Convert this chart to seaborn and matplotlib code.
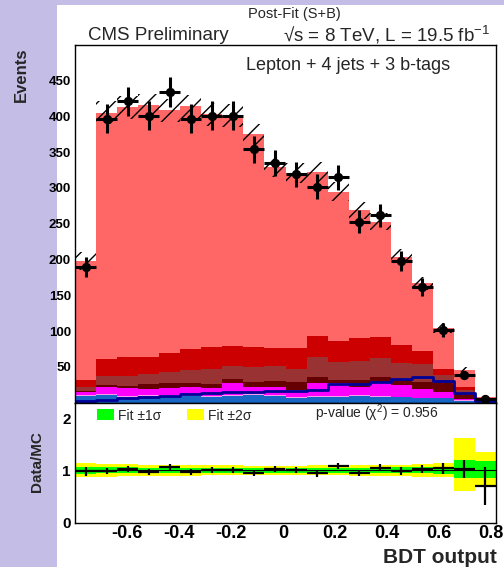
import numpy as np
import pandas as pd
import matplotlib
matplotlib.use("Agg")
import matplotlib.pyplot as plt
from matplotlib.patches import Patch, Rectangle
from matplotlib.ticker import MultipleLocator
import seaborn as sns

# binning of the BDT output (20 bins)
x_lo, x_hi, n_bins = -0.8, 0.82, 20

# observed data
data_events = [190, 397, 421, 401, 434, 397, 401, 401, 354, 335,
               319, 302, 315, 253, 262, 198, 161, 101.5, 38.5, 5]
data_err = [14, 20, 20.5, 20, 21, 20, 20, 20, 19, 18.3,
            17.9, 17.4, 17.7, 15.9, 16.2, 14.1, 12.7, 10.1, 6.2, 2.2]

# post-fit MC, top of each stacked component
mc_total = [198, 405, 413, 416, 409, 414, 403, 401, 375, 330,
            321, 323, 295, 269, 253, 204, 167, 104, 46, 8]
mc_err = [12, 16, 16, 16, 16, 16, 16, 16, 15, 14,
          14, 14, 13, 12, 12, 10, 9, 7, 4, 1]
top_red = [31.5, 60.4, 64.2, 64.2, 69.8, 74.4, 77.3, 79.6, 78.2, 75.9,
           75.9, 93.1, 86.1, 89.9, 91.3, 80.5, 72.6, 46.4, 22, 6]
top_brown = [22, 37.6, 37.6, 39.9, 43.1, 45.5, 46.9, 51.1, 50.2, 51.6,
             46.4, 63.2, 57.2, 58.6, 61.8, 54.8, 53.4, 38.5, 18, 5]
top_maroon = [16.5, 24.5, 23.1, 25.9, 26.8, 26.8, 25.9, 32.4, 29.2, 30.6,
              29.2, 36.2, 31.5, 31.5, 36.2, 31.5, 29.2, 26.8, 12, 4]
top_magenta = [15, 22.2, 19.8, 18.4, 19.8, 21.3, 19.8, 26.8, 22.2, 21.3,
               17.5, 27.8, 26.8, 22.2, 26.8, 24.5, 18.4, 15.2, 5, 2]
top_pink = [10.5, 11.6, 9, 10, 10, 10, 9, 11, 11.6, 10.7,
            7.5, 9, 9, 10, 9, 8, 6.6, 6.6, 3.2, 1.3]
top_blue = [9.5, 10.6, 8, 8.8, 8.8, 8.8, 7.9, 9.7, 10.6, 9.7,
            6.5, 7.9, 7.9, 8.8, 7.9, 7.0, 5.6, 5.6, 2.5, 1]
tth_line = [2.5, 3.5, 6, 8, 9.5, 11.5, 13, 14, 15, 16.5,
            16.1, 17.5, 25.4, 25.4, 29.2, 32.4, 36.2, 30, 13, 2.5]

# ratio panel
ratio = [0.98, 0.99, 1.03, 0.97, 1.06, 0.97, 1.0, 1.0, 0.95, 1.02,
         1.0, 0.94, 1.08, 0.95, 1.05, 0.99, 1.02, 1.04, 1.02, 0.70]
ratio_err = [0.08, 0.06, 0.06, 0.06, 0.06, 0.06, 0.06, 0.06, 0.06, 0.06,
             0.06, 0.06, 0.06, 0.065, 0.065, 0.07, 0.08, 0.11, 0.17, 0.36]
band2_lo = [0.87, 0.88, 0.89, 0.90, 0.90, 0.90, 0.91, 0.91, 0.91, 0.91,
            0.91, 0.91, 0.91, 0.90, 0.90, 0.89, 0.88, 0.87, 0.60, 0.69]
band2_hi = [1.14, 1.13, 1.12, 1.11, 1.10, 1.10, 1.10, 1.10, 1.09, 1.09,
            1.09, 1.10, 1.10, 1.10, 1.11, 1.11, 1.12, 1.14, 1.62, 1.36]
band1_lo = [0.93, 0.94, 0.94, 0.95, 0.95, 0.95, 0.95, 0.95, 0.95, 0.95,
            0.95, 0.95, 0.95, 0.95, 0.95, 0.94, 0.94, 0.93, 0.85, 0.85]
band1_hi = [1.07, 1.06, 1.06, 1.05, 1.05, 1.05, 1.05, 1.05, 1.05, 1.05,
            1.05, 1.05, 1.05, 1.05, 1.05, 1.06, 1.06, 1.07, 1.20, 1.18]

xtick_labels = ["-0.6", "-0.4", "-0.2", "0", "0.2", "0.4", "0.6", "0.8"]

W, H = 504, 567


def px(x, y):
    """pixel position (from top-left) -> figure fraction"""
    return x / W, 1 - y / H


def steps(vals):
    """repeat last value so fill_between(step='post') covers the last bin"""
    return list(vals) + [vals[-1]]


def style_axis(ax):
    ax.tick_params(which="both", direction="in", top=False, right=False, width=1, colors="black")
    for side in ax.spines.values():
        side.set_visible(True)
        side.set_color("black")
        side.set_linewidth(1)


def main():
    sns.set_theme(style="white")
    plt.rcParams["font.family"] = ["Liberation Sans", "DejaVu Sans"]
    plt.rcParams["mathtext.fontset"] = "custom"
    plt.rcParams["mathtext.rm"] = "Liberation Sans"
    plt.rcParams["mathtext.it"] = "Liberation Sans:italic"
    plt.rcParams["hatch.linewidth"] = 1.0
    plt.rcParams["hatch.color"] = "black"

    edges = np.linspace(x_lo, x_hi, n_bins + 1)
    centers = 0.5 * (edges[:-1] + edges[1:])
    half_w = 0.5 * (edges[1] - edges[0])

    fig = plt.figure(figsize=(W / 100, H / 100), dpi=100)
    fig.patch.set_facecolor("#c4bee6")
    fig.add_artist(Rectangle((57 / W, 0), 1 - 57 / W, 1 - 5 / H, transform=fig.transFigure,
                             facecolor="white", edgecolor="none", zorder=-5))

    ax = fig.add_axes([75 / W, 1 - 402.5 / H, 421 / W, 357.5 / H])
    ax_r = fig.add_axes([75 / W, 1 - 522.5 / H, 421 / W, 120 / H])

    # stacked backgrounds, drawn top component first
    layers = [(mc_total, "#ff6666"), (top_red, "#cc0000"), (top_brown, "#993333"),
              (top_maroon, "#660000"), (top_magenta, "#ff00ff"), (top_pink, "#ff99ee"),
              (top_blue, "#1766c6")]
    for tops, col in layers:
        layer_df = pd.DataFrame({"bdt": centers, "events": tops})
        sns.histplot(data=layer_df, x="bdt", weights="events", bins=list(edges),
                     element="step", fill=True, color=col, alpha=1, linewidth=0, ax=ax)

    # signal as a line
    ax.step(edges, steps(tth_line), where="post", color="#000099", linewidth=2)

    # fit uncertainty band
    lo = [m - e for m, e in zip(mc_total, mc_err)]
    hi = [m + e for m, e in zip(mc_total, mc_err)]
    ax.fill_between(edges, steps(lo), steps(hi), step="post", facecolor="none",
                    edgecolor="black", hatch="//", linewidth=0)

    # data
    ax.errorbar(centers, data_events, yerr=data_err, xerr=half_w, fmt="none",
                ecolor="black", elinewidth=2.2, capsize=0, zorder=5)
    sns.scatterplot(x=centers, y=data_events, color="black", s=45, edgecolor="black",
                    linewidth=0, ax=ax, zorder=6)

    ax.set_xlim(x_lo, x_hi)
    ax.set_ylim(0, 500)
    ax.set_yticks(np.arange(50, 451, 50))
    ax.yaxis.set_minor_locator(MultipleLocator(10))
    ax.set_xticks([-0.6, -0.4, -0.2, 0, 0.2, 0.4, 0.6, 0.8])
    ax.xaxis.set_minor_locator(MultipleLocator(0.05))
    ax.set_xticklabels([])
    ax.set_xlabel("")
    ax.set_ylabel("")
    style_axis(ax)
    ax.tick_params(which="major", length=9)
    ax.tick_params(which="minor", length=5)
    ax.tick_params(axis="y", labelsize=9.5, pad=3)
    for lab in ax.get_yticklabels():
        lab.set_fontweight("bold")

    ax.text((246 - 75) / 421, (402.5 - 66) / 357.5, "Lepton + 4 jets + 3 b-tags",
            transform=ax.transAxes, ha="left", va="center", fontsize=13)

    # ratio panel
    ax_r.fill_between(edges, steps(band2_lo), steps(band2_hi), step="post",
                      color="#ffff00", linewidth=0)
    ax_r.fill_between(edges, steps(band1_lo), steps(band1_hi), step="post",
                      color="#00ff00", linewidth=0)
    ax_r.axhline(1, color="black", linewidth=0.8)
    ax_r.errorbar(centers, ratio, yerr=ratio_err, xerr=half_w, fmt="none",
                  ecolor="black", elinewidth=1.6, capsize=0)

    ax_r.set_xlim(x_lo, x_hi)
    ax_r.set_ylim(0, 2.3)
    ax_r.set_yticks([0, 1, 2])
    ax_r.yaxis.set_minor_locator(MultipleLocator(0.25))
    ax_r.set_xticks([-0.6, -0.4, -0.2, 0, 0.2, 0.4, 0.6, 0.8])
    ax_r.set_xticklabels(xtick_labels)
    ax_r.xaxis.set_minor_locator(MultipleLocator(0.05))
    style_axis(ax_r)
    ax_r.tick_params(which="major", length=7)
    ax_r.tick_params(which="minor", length=4)
    ax_r.tick_params(axis="y", labelsize=11, pad=3)
    ax_r.tick_params(axis="x", labelsize=13, pad=1.5)
    for lab in ax_r.get_yticklabels() + ax_r.get_xticklabels():
        lab.set_fontweight("bold")

    handles = [Patch(facecolor="#00ff00", edgecolor="none"),
               Patch(facecolor="#ffff00", edgecolor="none")]
    ax_r.legend(handles, ["Fit \u00b11\u03c3", "Fit \u00b12\u03c3"], ncol=2, loc="upper left",
                bbox_to_anchor=((97 - 75) / 421, 0.95), frameon=False, fontsize=10,
                handlelength=1.2, handleheight=0.9, handletextpad=0.3, columnspacing=1.9,
                borderaxespad=0, borderpad=0)

    # titles and labels
    fig.text(*px(294, 14), "Post-Fit (S+B)", ha="center", va="center", fontsize=10.5)
    fig.text(*px(88, 36), "CMS Preliminary", ha="left", va="center", fontsize=13.5)
    fig.text(*px(490, 35), "\u221as = 8 TeV, L = 19.5 fb$^{-1}$", ha="right",
             va="center", fontsize=13.5)
    fig.text(*px(315, 413), "p-value (\u03c7$^{2}$) = 0.956", ha="left", va="center",
             fontsize=10)
    fig.text(*px(21, 47), "Events", rotation=90, ha="center", va="top",
             fontsize=12, fontweight="bold")
    fig.text(*px(37.5, 462), "Data/MC", rotation=90, ha="center", va="center",
             fontsize=11, fontweight="bold")
    fig.text(*px(497, 563), "BDT output", ha="right", va="baseline",
             fontsize=15, fontweight="bold")

    fig.savefig("out.png", dpi=100, facecolor=fig.get_facecolor())


if __name__ == "__main__":
    main()
